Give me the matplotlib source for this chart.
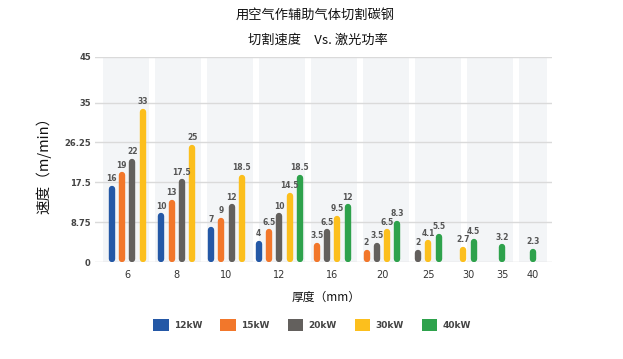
import matplotlib
matplotlib.use("Agg")
import matplotlib.pyplot as plt
from matplotlib.patches import Patch, Rectangle
import numpy as np

plt.rcParams['font.family'] = ['Noto Sans CJK SC', 'DejaVu Sans']

thickness = ["6", "8", "10", "12", "16", "20", "25", "30", "35", "40"]
series = ["12kW", "15kW", "20kW", "30kW", "40kW"]
colors = ["#2458a6", "#f2772b", "#63605d", "#fcbf1d", "#2ea24c"]
# None = no bar for that power at that thickness
v12 = [16, 10, 7, 4, None, None, None, None, None, None]
v15 = [19, 13, 9, 6.5, 3.5, 2, None, None, None, None]
v20 = [22, 17.5, 12, 10, 6.5, 3.5, 2, None, None, None]
v30 = [33, 25, 18.5, 14.5, 9.5, 6.5, 4.1, 2.7, None, None]
v40 = [None, None, None, 18.5, 12, 8.3, 5.5, 4.5, 3.2, 2.3]
yticks = [0, 8.75, 17.5, 26.25, 35, 45]

values = [v12, v15, v20, v30, v40]

W, H = 623, 359
fig = plt.figure(figsize=(W / 100, H / 100), dpi=100)
ax_l, ax_r, ax_t, ax_b = 95, 552, 57, 262
ax = fig.add_axes([ax_l / W, 1 - ax_b / H, (ax_r - ax_l) / W, (ax_b - ax_t) / H])

# layout: group width grows with number of bars present
step = 10.3
counts = [sum(1 for s in values if s[i] is not None) for i in range(len(thickness))]
widths = [24.1 + 6.4 * n for n in counts]
edges = np.concatenate([[0], np.cumsum(widths)])
centers = (edges[:-1] + edges[1:]) / 2
ax.set_xlim(-7.2, -7.2 + (ax_r - ax_l))
ax.set_ylim(0, 45)

# background bands (decoration)
for k in range(9):
    x0 = 0.0175 + k * 0.1138
    x1 = min(x0 + 0.1007, 0.989)
    ax.add_patch(Rectangle((x0, 0), x1 - x0, 1, transform=ax.transAxes,
                           facecolor="#f3f5f7", edgecolor="none", zorder=0))

for yv in yticks:
    ax.axhline(yv, color="#dadada", lw=1, zorder=1)

px_per_unit = (ax_b - ax_t) / 45.0
r = 3.0 / px_per_unit
for i in range(len(thickness)):
    present = [j for j in range(len(series)) if values[j][i] is not None]
    n = len(present)
    for k, j in enumerate(present):
        x = centers[i] + (k - (n - 1) / 2) * step
        v = values[j][i]
        ax.plot([x, x], [r, v], color=colors[j], lw=4.6,
                solid_capstyle="round", zorder=3)
        lab = ("%g" % v)
        ax.text(x, v + r + 0.6, lab, ha="center", va="bottom", fontsize=5.5,
                fontweight="bold", color="#555555", family="DejaVu Sans", zorder=4)

ax.set_xticks(centers)
ax.set_xticklabels(thickness, fontsize=7, color="#333333", family="DejaVu Sans")
ax.set_yticks(yticks)
ax.set_yticklabels(["%g" % t for t in yticks], fontsize=6, color="#444444",
                   fontweight="bold", family="DejaVu Sans")
ax.tick_params(axis="both", length=0)
ax.tick_params(axis="x", pad=6)
ax.tick_params(axis="y", pad=3)
for s in ax.spines.values():
    s.set_visible(False)
ax.set_facecolor("none")

fig.text(315 / W, 1 - 15 / H, "用空气作辅助气体切割碳钢", ha="center", va="center",
         fontsize=9.5, color="#111111")
fig.text(318 / W, 1 - 40 / H, "切割速度　Vs. 激光功率", ha="center", va="center",
         fontsize=9.5, color="#111111")
fig.text(44 / W, 1 - 162 / H, "速度（m/min）", ha="center", va="center",
         rotation=90, fontsize=10.5, color="#111111")
fig.text(326 / W, 1 - 297 / H, "厚度（mm）", ha="center", va="center",
         fontsize=8.5, color="#111111")

handles = [Patch(facecolor=c, edgecolor="none") for c in colors]
leg = fig.legend(handles, series, loc="center", bbox_to_anchor=(312 / W, 1 - 325 / H),
                 ncol=5, frameon=False, prop={"family": "DejaVu Sans", "size": 6.5,
                                              "weight": "bold"},
                 handlelength=1.7, handleheight=1.7, handletextpad=0.6,
                 columnspacing=2.0, labelcolor="#444444")

fig.savefig("out.png", dpi=100)
